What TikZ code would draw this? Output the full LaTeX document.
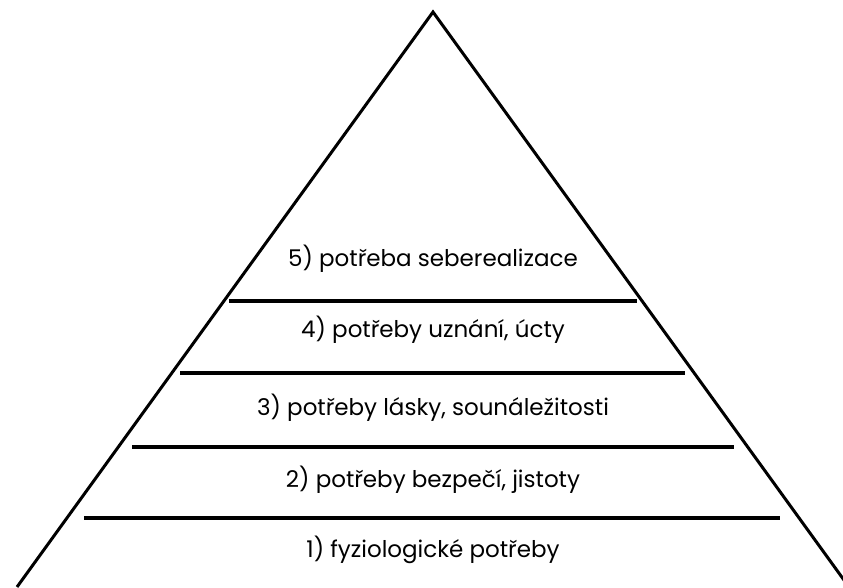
\documentclass[tikz,border=0pt]{standalone}
\usepackage{fontspec}
\setmainfont{Poppins}
\begin{document}
\begin{tikzpicture}[x=1pt,y=1pt,
  edge/.style={line width=3pt,black},
  level/.style={line width=3.3pt,black},
  lbl/.style={font=\fontsize{23}{26}\selectfont,inner sep=0pt,anchor=base}]
\useasboundingbox (0,0) rectangle (843,587);
\clip (0,0) rectangle (843,587);
\coordinate (apex) at (433,575);
\coordinate (bl) at (17,0);
\coordinate (br) at (849,0);
\draw[edge,line join=miter] (bl) -- (apex) -- (br);
\coordinate (l1a) at (84,69);  \coordinate (l1b) at (780,69);
\coordinate (l2a) at (132,140); \coordinate (l2b) at (734,140);
\coordinate (l3a) at (180,214); \coordinate (l3b) at (685,214);
\coordinate (l4a) at (229,286); \coordinate (l4b) at (637,286);
\draw[level] (l1a) -- (l1b);
\draw[level] (l2a) -- (l2b);
\draw[level] (l3a) -- (l3b);
\draw[level] (l4a) -- (l4b);
\node[lbl] (t5) at (433,320) {5) potřeba seberealizace};
\node[lbl] (t4) at (433,249) {4) potřeby uznání, úcty};
\node[lbl] (t3) at (433,172) {3) potřeby lásky, sounáležitosti};
\node[lbl] (t2) at (433,100) {2) potřeby bezpečí, jistoty};
\node[lbl] (t1) at (433,30) {1) fyziologické potřeby};
\end{tikzpicture}
\end{document}
